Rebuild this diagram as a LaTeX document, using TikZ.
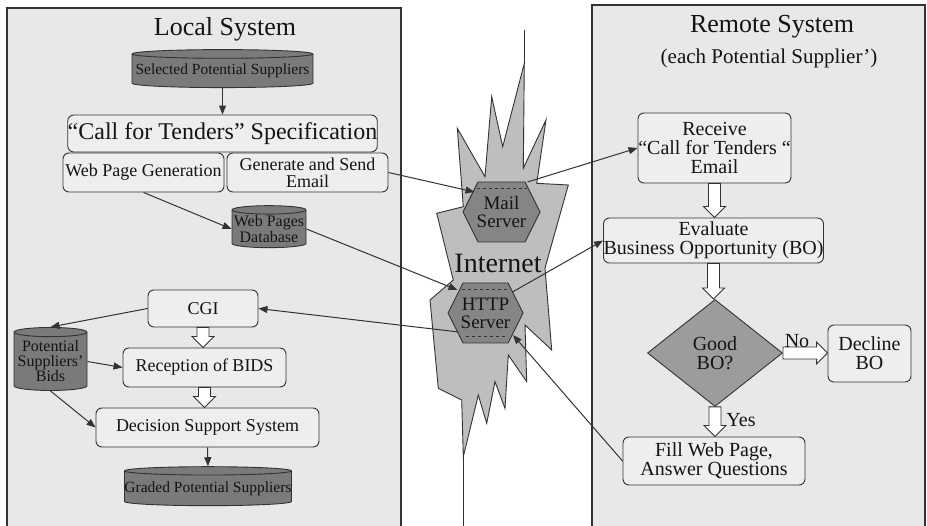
\documentclass[tikz,border=0pt]{standalone}
\usepackage{fontspec}
\setmainfont{Liberation Serif}
\usetikzlibrary{shapes.geometric,arrows.meta,calc}
\definecolor{panelfill}{HTML}{E8E8E8}
\definecolor{boxfill}{HTML}{EEEEEE}
\definecolor{dbfill}{HTML}{7A7A7A}
\definecolor{hexfill}{HTML}{858585}
\definecolor{netfill}{HTML}{BEBEBE}
\definecolor{linec}{HTML}{333333}
\definecolor{diafill}{HTML}{9C9C9C}
\definecolor{txt}{HTML}{141414}
\newcommand\harrowV[2]{\path[hollowarrow] let \p1=(#1), \p2=(#2) in
  (\x1-6pt,\y1) -- (\x1+6pt,\y1) -- (\x1+6pt,\y2+11pt) -- (\x1+11pt,\y2+11pt) --
  (\x1,\y2) -- (\x1-11pt,\y2+11pt) -- (\x1-6pt,\y2+11pt) -- cycle;}
\newcommand\harrowH[2]{\path[hollowarrow] let \p1=(#1), \p2=(#2) in
  (\x1,\y1+6pt) -- (\x1,\y1-6pt) -- (\x2-11pt,\y1-6pt) -- (\x2-11pt,\y1-11pt) --
  (\x2,\y1) -- (\x2-11pt,\y1+11pt) -- (\x2-11pt,\y1+6pt) -- cycle;}
\tikzset{
  panel/.style={fill=panelfill},
  paneledge/.style={draw=linec, line width=1.2pt},
  rbox/.style={draw=linec, line width=0.9pt, fill=boxfill, rounded corners=6pt,
    inner sep=0pt, align=center, text=txt},
  db/.style={cylinder, shape border rotate=90, draw=linec, line width=0.9pt,
    fill=dbfill, inner sep=0pt, align=center, text=txt},
  hexs/.style={draw=linec, line width=0.9pt, fill=hexfill},
  hexdash/.style={draw=linec, line width=0.6pt, dashed},
  hexlabel/.style={inner sep=0pt, align=center, text=txt,
    font=\fontsize{19}{18}\selectfont},
  conn/.style={draw=linec, line width=1pt, -{Triangle[length=9pt,width=7pt]}},
  hollowarrow/.style={draw=linec, line width=0.9pt, fill=white},
  title/.style={text=txt, inner sep=0pt, font=\fontsize{26}{26}\selectfont},
  f20/.style={font=\fontsize{20}{19}\selectfont},
  f18/.style={font=\fontsize{18}{17}\selectfont},
}
\begin{document}
\begin{tikzpicture}[x=1pt,y=-1pt]
\useasboundingbox[fill=white] (0,0) rectangle (927,526);
% panels
\fill[panel] (7,8) rectangle (401,526);
\draw[paneledge] (7,526) -- (7,8) -- (401,8) -- (401,526);
\fill[panel] (592,5) rectangle (925,526);
\draw[paneledge] (592,526) -- (592,5) -- (925,5) -- (925,526);
% titles
\node[title] (ltitle) at (225,29) {Local System};
\node[title] (rtitle) at (772,27) {Remote System};
\node[text=txt, inner sep=0pt, font=\fontsize{21}{21}\selectfont] (rsub) at (769,58) {(each Potential Supplier’)};
% internet cloud
\coordinate (nettop) at (524.3,30);
\coordinate (nettip) at (524.3,63.3);
\coordinate (netbot) at (463.3,456.7);
\coordinate (netend) at (463.3,526);
\draw[draw=linec, line width=0.9pt] (nettop) -- (nettip);
\draw[draw=linec, line width=0.9pt] (netbot) -- (netend);
\path[draw=linec, line width=0.9pt, fill=netfill]
  (nettip) -- (523.3,168.3) -- (546,120) -- (536.7,183.3) -- (568.3,185) --
  (545,268) -- (551.7,350) -- (525,325) -- (526.7,381.7) -- (508.3,355) --
  (505,408.3) -- (495,381.7) -- (486.7,423.3) -- (478.3,395) -- (netbot) --
  (461.7,400) -- (438.3,388.3) -- (430,300) -- (453.3,280) -- (436.7,213.3) --
  (463.3,206.7) -- (457.3,128.3) -- (485,176.7) -- (491.7,96.7) --
  (502.7,146.7) -- cycle;
\node[text=txt, inner sep=0pt, font=\fontsize{28}{28}\selectfont] (inet) at (498,263) {Internet};
% servers
\coordinate (mailc) at (501.5,212);
\path[hexs] (mailc) ++(-38.5,0) -- ++(15,-30) -- ++(47,0) -- ++(15,30) -- ++(-15,30) -- ++(-47,0) -- cycle;
\draw[hexdash] (mailc) ++(-25,-24) -- ++(50,0);
\node[hexlabel, minimum width=77, minimum height=60] (mail) at (mailc) {Mail\\Server};
\coordinate (httpc) at (485.5,313);
\path[hexs] (httpc) ++(-37.5,0) -- ++(15,-30) -- ++(45,0) -- ++(15,30) -- ++(-15,30) -- ++(-45,0) -- cycle;
\draw[hexdash] (httpc) ++(-24,-24) -- ++(48,0);
\draw[hexdash] (httpc) ++(-20,23) -- ++(40,0);
\node[hexlabel, minimum width=75, minimum height=60] (http) at (httpc) {HTTP\\Server};
% local system nodes
\node[db, minimum width=181, minimum height=38, aspect=0.05, font=\fontsize{15.5}{15}\selectfont] (sps) at (222.5,71) {Selected Potential Suppliers};
\node[rbox, minimum width=305, minimum height=37, font=\fontsize{24}{24}\selectfont] (cft) at (222.5,133.5) {“Call for Tenders” Specification};
\node[rbox, f18, minimum width=161, minimum height=39] (wpg) at (143.5,172.5) {Web Page Generation};
\node[rbox, f18, minimum width=161, minimum height=39] (gse) at (307.5,172.5) {Generate and Send\\Email};
\node[db, minimum width=74, minimum height=42, aspect=0.12, font=\fontsize{16}{14.5}\selectfont] (wpdb) at (269,229) {Web Pages\\Database};
\node[rbox, f18, minimum width=110, minimum height=37] (cgi) at (203,308.5) {CGI};
\node[db, minimum width=73, minimum height=63, aspect=0.14, font=\fontsize{16}{14.5}\selectfont] (psb) at (50.5,361.5) {Potential\\Suppliers'\\Bids};
\node[rbox, f18, minimum width=163, minimum height=39] (rob) at (204.5,367.5) {Reception of BIDS};
\node[rbox, f18, minimum width=223, minimum height=39] (dss) at (207.5,427.5) {Decision Support System};
\node[db, minimum width=164, minimum height=39, aspect=0.05, font=\fontsize{15.5}{15}\selectfont] (gps) at (208,488.5) {Graded Potential Suppliers};
% remote system nodes
\node[rbox, f20, minimum width=153, minimum height=70] (rcv) at (714.5,148) {Receive\\“Call for Tenders “\\Email};
\node[rbox, f20, minimum width=215, minimum height=45] (eval) at (713.5,240.5) {Evaluate\\Business Opportunity (BO)};
\node[diamond, draw=linec, line width=0.9pt, fill=diafill, minimum width=135, minimum height=107, inner sep=0pt, align=center, text=txt, f20] (good) at (715,353) {Good\\BO?};
\node[rbox, f20, minimum width=83, minimum height=57] (decl) at (869.5,353.5) {Decline\\BO};
\node[rbox, f20, minimum width=182, minimum height=48] (fill) at (714,461) {Fill Web Page,\\Answer Questions};
% connectors, local
\draw[conn] (sps.south) -- (cft.north);
\draw[conn] (wpg.south) -- (wpdb.west);
\draw[conn] (cgi.west) -- (psb.north);
\draw[conn] (psb.east) -- (rob.west);
\draw[conn] (psb.south) -- (dss.west);
\draw[conn] (dss.south) -- (gps.north);
\harrowV{cgi.south}{rob.north}
\harrowV{rob.south}{dss.north}
% connectors via internet
\draw[conn] (gse.east) -- ($(mail.center)+(-27,-20)$);
\draw[conn] ($(mail.center)+(26,-30)$) -- (rcv.west);
\draw[conn] (wpdb.east) -- ($(http.center)+(-28,-23)$);
\draw[conn] ($(http.center)+(27,-21)$) -- (eval.west);
\draw[conn] ($(http.center)+(-27,19)$) -- (cgi.east);
\draw[conn] (fill.west) -- ($(http.center)+(27.5,22)$);
% remote flow
\harrowV{rcv.south}{eval.north}
\harrowV{eval.south}{good.north}
\harrowV{good.south}{fill.north}
\harrowH{good.east}{decl.west}
\node[text=txt, inner sep=0pt, f20] (nolab) at (797,341) {No};
\node[text=txt, inner sep=0pt, f20] (yeslab) at (741,420) {Yes};
\end{tikzpicture}
\end{document}
